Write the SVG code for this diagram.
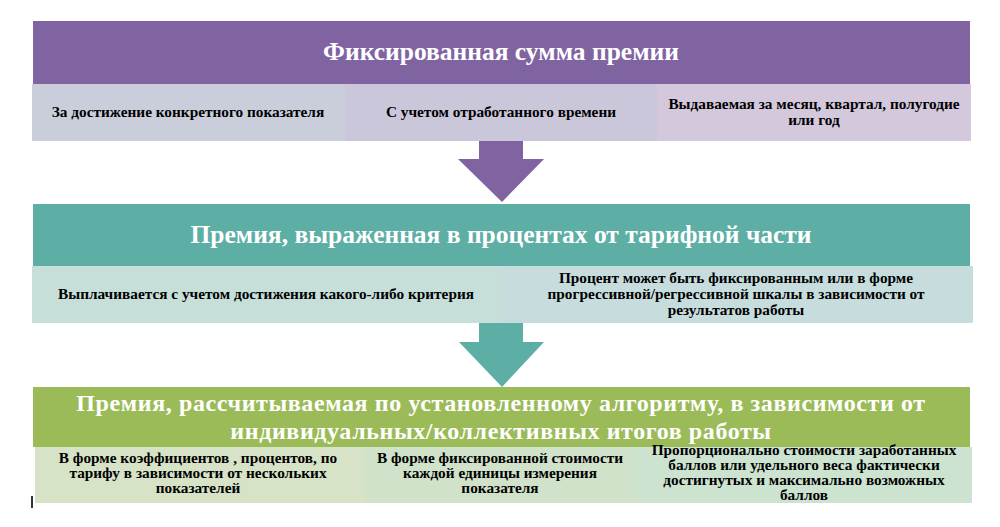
<svg xmlns="http://www.w3.org/2000/svg" width="1000" height="527" viewBox="0 0 1000 527">
<style>
.h{font-family:"Liberation Serif","DejaVu Serif",serif;font-weight:bold;font-size:25.5px;fill:#ffffff;text-anchor:middle}
.h3{font-size:24px;letter-spacing:0.6px}
.c{font-family:"Liberation Serif","DejaVu Serif",serif;font-weight:bold;font-size:15.3px;fill:#000000;text-anchor:middle}
</style>
<rect width="1000" height="527" fill="#ffffff"/>
<g id="connectors">
<polygon points="479,140 523,140 523,159 544,159 502,202 458,159 479,159" fill="#8064A2"/>
<polygon points="479,323 523,323 523,342 544,342 502,387 459,342 479,342" fill="#5DAEA4"/>
</g>
<g id="block1">
<rect x="33" y="21" width="937" height="63" fill="#8064A2"/>
<text class="h" x="501" y="60">Фиксированная сумма премии</text>
<rect x="32" y="84" width="313" height="57" fill="#CACEDB"/>
<rect x="345" y="84" width="312" height="57" fill="#CBC7DB"/>
<rect x="657" y="84" width="314" height="57" fill="#D3C8DC"/>
<text class="c" x="188" y="117">За достижение конкретного показателя</text>
<text class="c" x="501" y="117">С учетом отработанного времени</text>
<text class="c" x="814" y="109">Выдаваемая за месяц, квартал, полугодие</text>
<text class="c" x="814" y="125">или год</text>
</g>
<g id="block2">
<rect x="33" y="204" width="937" height="62" fill="#5DAEA4"/>
<text class="h" x="501" y="243">Премия, выраженная в процентах от тарифной части</text>
<rect x="32" y="266" width="470" height="57" fill="#C6DFD9"/>
<rect x="502" y="266" width="471" height="57" fill="#C7DDDD"/>
<text class="c" x="266" y="299">Выплачивается с учетом достижения какого-либо критерия</text>
<text class="c" x="736" y="283">Процент может быть фиксированным или в форме</text>
<text class="c" x="736" y="299">прогрессивной/регрессивной шкалы в зависимости от</text>
<text class="c" x="736" y="315">результатов работы</text>
</g>
<g id="block3">
<rect x="33" y="387" width="937" height="60" fill="#9BBB59"/>
<text class="h h3" x="501" y="411">Премия, рассчитываемая по установленному алгоритму, в зависимости от</text>
<text class="h h3" x="501" y="439">индивидуальных/коллективных итогов работы</text>
<rect x="35" y="447" width="330" height="56" fill="#D7E3C6"/>
<rect x="365" y="447" width="272" height="56" fill="#D0E2CA"/>
<rect x="637" y="447" width="335" height="56" fill="#CCE3D0"/>
<text class="c" x="198" y="463">В форме коэффициентов , процентов, по</text>
<text class="c" x="198" y="478">тарифу в зависимости от нескольких</text>
<text class="c" x="198" y="493">показателей</text>
<text class="c" x="500" y="463">В форме фиксированной стоимости</text>
<text class="c" x="500" y="478">каждой единицы измерения</text>
<text class="c" x="500" y="493">показателя</text>
<text class="c" x="804" y="455">Пропорционально стоимости заработанных</text>
<text class="c" x="804" y="470">баллов или удельного веса фактически</text>
<text class="c" x="804" y="485">достигнутых и максимально возможных</text>
<text class="c" x="804" y="500">баллов</text>
</g>
<rect x="31" y="496" width="2" height="12" fill="#333333"/>
</svg>
